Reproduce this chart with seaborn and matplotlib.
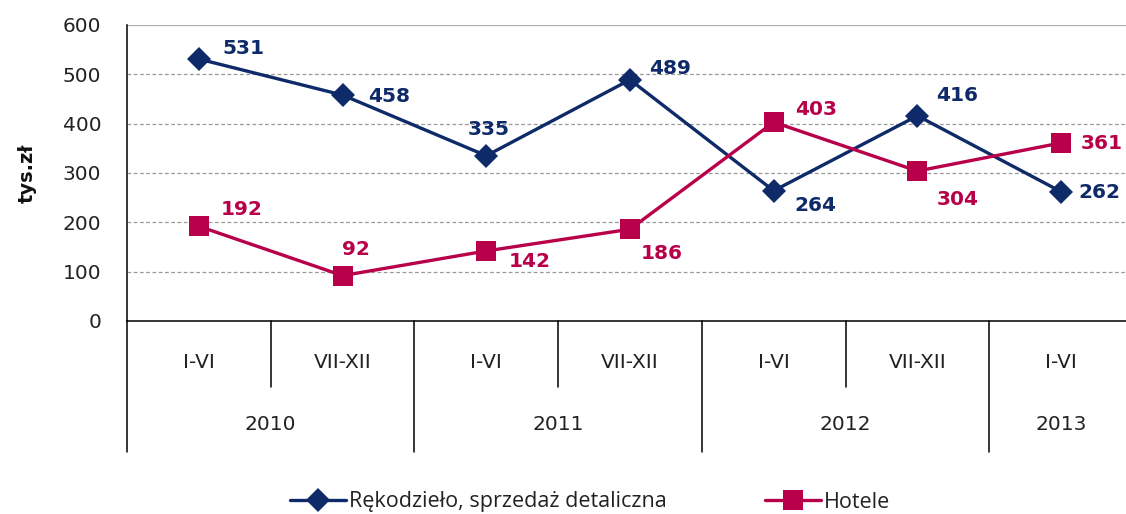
import matplotlib
matplotlib.use("Agg")
import matplotlib.pyplot as plt
import matplotlib.transforms as mtransforms
from matplotlib.lines import Line2D
import seaborn as sns
import pandas as pd

# --- data -------------------------------------------------------------
half_labels = ["I-VI", "VII-XII", "I-VI", "VII-XII", "I-VI", "VII-XII", "I-VI"]
year_labels = ["2010", "2011", "2012", "2013"]
year_spans = [2, 2, 2, 1]          # number of half-years in each year
retail = [531, 458, 335, 489, 264, 416, 262]
hotels = [192, 92, 142, 186, 403, 304, 361]
series_names = ["Rękodzieło, sprzedaż detaliczna", "Hotele"]

# --- styling ----------------------------------------------------------
NAVY = "#0e2a68"
CRIMSON = "#b8004a"
TEXT = "#222222"
# label offsets in pixels (dx, dy) relative to each point
retail_offsets = [(45, 11), (47, -1), (2, 26), (40, 11), (42, -15), (40, 20), (38, -1)]
hotel_offsets = [(43, 17), (13, 26), (43, -11), (32, -24), (42, 13), (40, -28), (41, -1)]

sns.set_style("white")
plt.rcParams["font.family"] = ["DejaVu Sans"]

df = pd.DataFrame({
    "pos": list(range(len(retail))) * 2,
    "value": retail + hotels,
    "series": [series_names[0]] * len(retail) + [series_names[1]] * len(hotels),
})

W, H = 1126, 514
fig = plt.figure(figsize=(W / 100, H / 100), dpi=100)
ax_left, ax_right, ax_top, ax_bottom = 127, 1133, 25, 321
ax = fig.add_axes([ax_left / W, 1 - ax_bottom / H,
                   (ax_right - ax_left) / W, (ax_bottom - ax_top) / H])

palette = {series_names[0]: NAVY, series_names[1]: CRIMSON}
markers = {series_names[0]: "D", series_names[1]: "s"}
sns.lineplot(data=df, x="pos", y="value", hue="series", style="series",
             palette=palette, markers=markers, dashes=False, linewidth=2.4,
             markersize=12.5, markeredgewidth=0, legend=False, ax=ax, zorder=5)
# the squares are drawn a little larger than the diamonds
for line in ax.lines:
    if line.get_marker() == "s":
        line.set_markersize(15)

ax.set_xlim(-0.5, len(retail) - 0.5)
ax.set_ylim(0, 600)
ax.set_yticks(range(0, 601, 100))
ax.set_xticks([])
ax.set_xlabel("")
ax.set_ylabel("tys.zł", fontsize=14, fontweight="bold", color="#111111")
ax.yaxis.set_label_coords(-(ax_left - 37) / (ax_right - ax_left), 0.5)
ax.tick_params(axis="y", labelsize=14.5, length=7, width=1, color="black",
               direction="out", pad=11.5, labelcolor=TEXT)

for y in range(100, 600, 100):
    ax.axhline(y, color="#9a9a9a", lw=0.9, ls=(0, (3, 2)), zorder=1)
ax.axhline(600, color="#b0b0b0", lw=0.9, zorder=1)

for s in ["top", "right"]:
    ax.spines[s].set_visible(False)
for s in ["left", "bottom"]:
    ax.spines[s].set_color("black")
    ax.spines[s].set_linewidth(1.1)

# data labels
for i, (v, off) in enumerate(zip(retail, retail_offsets)):
    ax.annotate(str(v), (i, v), xytext=off, textcoords="offset pixels",
                ha="center", va="center", color=NAVY, fontsize=14.5,
                fontweight="bold", zorder=6)
for i, (v, off) in enumerate(zip(hotels, hotel_offsets)):
    ax.annotate(str(v), (i, v), xytext=off, textcoords="offset pixels",
                ha="center", va="center", color=CRIMSON, fontsize=14.5,
                fontweight="bold", zorder=6)

# two-level category axis
trans = mtransforms.blended_transform_factory(ax.transData, ax.transAxes)
axh = ax_bottom - ax_top
short_bot = -(387 - ax_bottom) / axh
long_bot = -(452 - ax_bottom) / axh
row1 = -(362 - ax_bottom) / axh
row2 = -(424 - ax_bottom) / axh

for i, lab in enumerate(half_labels):
    ax.text(i, row1, lab, transform=trans, ha="center", va="center",
            fontsize=14.5, color=TEXT)

start = 0
for yl, span in zip(year_labels, year_spans):
    ax.add_line(Line2D([start - 0.5, start - 0.5], [0, long_bot], transform=trans,
                       color="black", lw=1.1, clip_on=False))
    for k in range(1, span):
        xx = start + k - 0.5
        ax.add_line(Line2D([xx, xx], [0, short_bot], transform=trans,
                           color="black", lw=1.1, clip_on=False))
    ax.text(start + (span - 1) / 2, row2, yl, transform=trans, ha="center",
            va="center", fontsize=14.5, color=TEXT)
    start += span
ax.add_line(Line2D([start - 0.5, start - 0.5], [0, long_bot], transform=trans,
                   color="black", lw=1.1, clip_on=False))

# legend: one entry per series, placed side by side below the chart
handles = [
    Line2D([], [], color=NAVY, marker="D", markersize=12, lw=2.4, markeredgewidth=0),
    Line2D([], [], color=CRIMSON, marker="s", markersize=14, lw=2.4, markeredgewidth=0),
]
legend_x = [290, 765]
for h, name, lx in zip(handles, series_names, legend_x):
    leg = fig.legend([h], [name], loc="center left",
                     bbox_to_anchor=(lx / W, 1 - 502 / H), frameon=False,
                     handlelength=2.6, handletextpad=0.15, borderpad=0,
                     borderaxespad=0, prop={"family": "Open Sans", "size": 15.5},
                     labelcolor=TEXT)

fig.savefig("out.png", dpi=100)
